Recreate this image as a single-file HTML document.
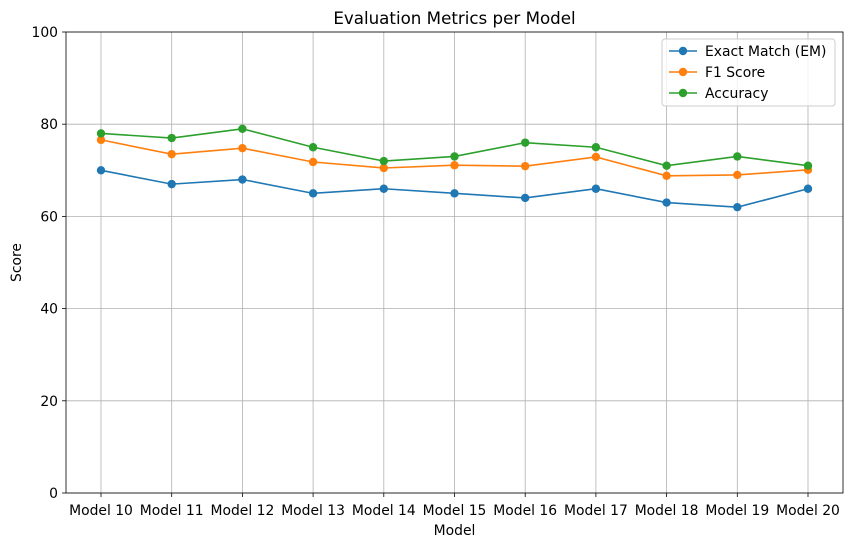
<!DOCTYPE html>
<html><head><meta charset="utf-8"><style>
body{margin:0;background:#fff;font-family:"Liberation Sans","DejaVu Sans",sans-serif}
</style></head><body>
<svg id="chart" width="850" height="547" xmlns="http://www.w3.org/2000/svg" font-family="DejaVu Sans, Liberation Sans, sans-serif"></svg>
<script>
const categories=["Model 10","Model 11","Model 12","Model 13","Model 14","Model 15","Model 16","Model 17","Model 18","Model 19","Model 20"];
const emValues=[70,67,68,65,66,65,64,66,63,62,66];
const f1Values=[76.6,73.5,74.8,71.8,70.5,71.1,70.9,72.9,68.8,69.0,70.1];
const accValues=[78,77,79,75,72,73,76,75,71,73,71];
const yTicks=[0,20,40,60,80,100];
const seriesNames=["Exact Match (EM)","F1 Score","Accuracy"];
const colors=["#1f77b4","#ff7f0e","#2ca02c"];

const svg=document.getElementById('chart');
const NS="http://www.w3.org/2000/svg";
const L=66,R=843,T=32,B=493;
const x=i=>101+i*(808-101)/(categories.length-1);
const y=v=>B-(v/100)*(B-T);
function mk(tag,attrs,parent){const e=document.createElementNS(NS,tag);for(const k in attrs)e.setAttribute(k,attrs[k]);(parent||svg).appendChild(e);return e;}

categories.forEach((c,i)=>{
  const g=mk('line',{x1:x(i),x2:x(i),y1:T,y2:B,stroke:'#b0b0b0','stroke-width':0.8});
  
  
  mk('line',{x1:x(i),x2:x(i),y1:B,y2:B+4,stroke:'#000','stroke-width':0.8});
  const t=mk('text',{x:x(i),y:B+22,'text-anchor':'middle','font-size':13.9});
  t.textContent=c;
  
  
});
yTicks.forEach(v=>{
  const g=mk('line',{x1:L,x2:R,y1:y(v),y2:y(v),stroke:'#b0b0b0','stroke-width':0.8});
  
  
  mk('line',{x1:L-4,x2:L,y1:y(v),y2:y(v),stroke:'#000','stroke-width':0.8});
  const t=mk('text',{x:L-8,y:y(v)+5,'text-anchor':'end','font-size':13.9});
  t.textContent=v;
  
  
});
const frame=mk('rect',{x:L,y:T,width:R-L,height:B-T,fill:'none',stroke:'#000','stroke-width':0.8});



[emValues,f1Values,accValues].forEach((vals,s)=>{
  const g=mk('g',{});
  
  
  mk('polyline',{points:vals.map((v,i)=>x(i)+','+y(v)).join(' '),fill:'none',stroke:colors[s],'stroke-width':1.6},g);
  vals.forEach((v,i)=>{
    const c=mk('circle',{cx:x(i),cy:y(v),r:4.2,fill:colors[s]},g);
    
    
  });
});

let t=mk('text',{x:(L+R)/2,y:24,'text-anchor':'middle','font-size':16.7});t.textContent="Evaluation Metrics per Model";


t=mk('text',{x:(L+R)/2,y:535,'text-anchor':'middle','font-size':13.9});t.textContent="Model";


t=mk('text',{x:21,y:(T+B)/2,'text-anchor':'middle','font-size':13.9,transform:`rotate(-90 21 ${(T+B)/2})`});t.textContent="Score";



const lg=mk('g',{});


mk('rect',{x:662,y:39,width:173,height:67,rx:3,fill:'#fff','fill-opacity':0.8,stroke:'#ccc'},lg);
seriesNames.forEach((n,s)=>{
  const yy=51+s*21;
  const e=mk('g',{},lg);
  
  
  mk('line',{x1:669,x2:697,y1:yy,y2:yy,stroke:colors[s],'stroke-width':1.6},e);
  mk('circle',{cx:683,cy:yy,r:4.2,fill:colors[s]},e);
  const tx=mk('text',{x:705,y:yy+5,'font-size':13.9},e);tx.textContent=n;
});
</script>
</body></html>
